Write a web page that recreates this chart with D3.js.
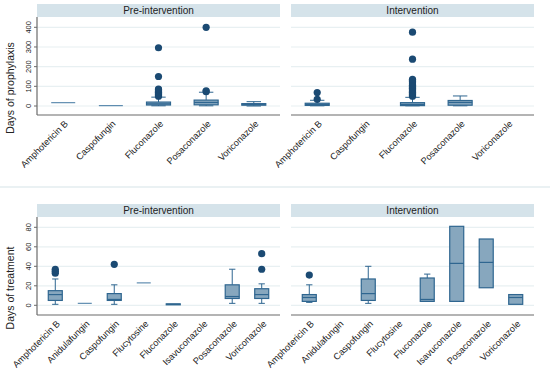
<!DOCTYPE html>
<meta charset="utf-8">
<script src="https://d3js.org/d3.v7.min.js"></script>
<style>
  body { margin: 0; background: #fff; }
  text { font-family: "Liberation Sans", Arial, sans-serif; fill: #222; }
</style>
<div id="chart"></div>
<script>

// categories
const prophCats = ["Amphotericin B", "Caspofungin", "Fluconazole", "Posaconazole", "Voriconazole"];
const treatCats = ["Amphotericin B", "Anidulafungin", "Caspofungin", "Flucytosine", "Fluconazole", "Isavuconazole", "Posaconazole", "Voriconazole"];
const panels = ["Pre-intervention", "Intervention"];

// box stats per category: [min, q1, median, q3, max], null = no data
const prophPre = [[17, 17, 17, 17, 17], [2, 2, 2, 2, 2], [1, 5, 11, 20, 45], [1, 6, 18, 30, 70], [0, 4, 8, 12, 22]];
const prophInt = [[1, 3, 8, 14, 29], null, [1, 2, 8, 17, 44], [1, 4, 18, 28, 51], null];
const treatPre = [[1, 5, 11, 15, 27], [2, 2, 2, 2, 2], [1, 5, 6, 12, 21], [23, 23, 23, 23, 23], [0.5, 0.5, 1, 1.5, 1.5], null, [2, 7, 9, 21, 37], [2, 7, 11, 17, 22]];
const treatInt = [[3, 4, 8, 11, 21], null, [2, 5, 12, 27, 40], null, [4, 4, 6, 28, 32], [4, 4, 43, 81, 81], [18, 18, 44, 68, 68], [1, 1, 8, 11, 11]];

// outliers per category
const prophPreOut = [[], [], [50, 54, 58, 62, 66, 70, 74, 78, 82, 86, 150, 296], [73, 77, 400], []];
const prophIntOut = [[34, 68], [], [50, 54, 58, 62, 66, 70, 74, 78, 82, 86, 90, 94, 98, 102, 106, 112, 118, 124, 130, 136, 238, 375], [], []];
const treatPreOut = [[33, 35, 37], [], [42], [], [], [], [], [37, 53]];
const treatIntOut = [[31], [], [], [], [], [], [], []];

// tick labels
const prophTicks = [0, 100, 200, 300, 400];
const treatTicks = [0, 20, 40, 60, 80];

const W = 550, H = 369;
const boxFill = "#87a7be", boxLine = "#2f6690", dotCol = "#1b4a73";
const gridCol = "#e8f0f2", headCol = "#d5e3ea", axisCol = "#6b6b6b";

const svg = d3.select("#chart").append("svg")
  .attr("width", W).attr("height", H);

// separator between the two graphs
svg.append("line")
  .attr("x1", 0).attr("x2", W).attr("y1", 187).attr("y2", 187)
  .attr("stroke", "#eaf1f3").attr("stroke-width", 2);

const panelX = [[37, 280], [291, 534]];

function drawChart(cfg) {
  const y = d3.scaleLinear().domain(cfg.domain).range([cfg.y0, cfg.y1]);

  cfg.stats.forEach((stats, pi) => {
    const [px0, px1] = panelX[pi];
    const x = d3.scalePoint().domain(cfg.cats).range([px0, px1]).padding(cfg.pad);
    const g = svg.append("g");

    // header strip
    g.append("rect")
      .attr("x", px0).attr("y", cfg.headTop)
      .attr("width", px1 - px0).attr("height", cfg.plotTop - cfg.headTop)
      .attr("fill", headCol);
    g.append("text")
      .attr("x", (px0 + px1) / 2).attr("y", cfg.headTop + 10)
      .attr("text-anchor", "middle").style("font-size", "10px")
      .text(panels[pi]);

    // gridlines
    g.selectAll(".grid").data(cfg.ticks).join("line")
      .attr("x1", px0).attr("x2", px1)
      .attr("y1", d => y(d)).attr("y2", d => y(d))
      .attr("stroke", gridCol).attr("stroke-width", 1.2);

    // x axis line
    g.append("line")
      .attr("x1", px0).attr("x2", px1)
      .attr("y1", cfg.axisY).attr("y2", cfg.axisY)
      .attr("stroke", axisCol).attr("stroke-width", 1.2);

    // x tick labels
    g.selectAll(".xl").data(cfg.cats).join("text")
      .attr("transform", d => `translate(${x(d) + 3},${cfg.axisY + 7}) rotate(-45)`)
      .attr("text-anchor", "end").attr("dy", "0.35em")
      .style("font-size", "9.2px")
      .text(d => d);

    if (pi === 0) {
      // y axis
      g.append("line")
        .attr("x1", px0).attr("x2", px0)
        .attr("y1", cfg.plotTop).attr("y2", cfg.axisY)
        .attr("stroke", axisCol).attr("stroke-width", 1.2);
      g.selectAll(".yt").data(cfg.ticks).join("line")
        .attr("x1", px0 - 3).attr("x2", px0)
        .attr("y1", d => y(d)).attr("y2", d => y(d))
        .attr("stroke", axisCol);
      g.selectAll(".yl").data(cfg.ticks).join("text")
        .attr("transform", d => `translate(${px0 - 6},${y(d)}) rotate(-90)`)
        .attr("text-anchor", "middle")
        .style("font-size", "7.5px")
        .text(d => d);
      g.append("text")
        .attr("transform", `translate(14,${(cfg.plotTop + cfg.axisY) / 2 + 22}) rotate(-90)`)
        .attr("text-anchor", "middle")
        .style("font-size", "10.5px")
        .text(cfg.title);
    }

    const bw = cfg.boxW, cw = cfg.boxW * cfg.capRatio;
    stats.forEach((s, i) => {
      if (!s) return;
      const cx = x(cfg.cats[i]);
      const [mn, q1, md, q3, mx] = s;
      // whiskers
      if (mx > q3) {
        g.append("line").attr("x1", cx).attr("x2", cx).attr("y1", y(q3)).attr("y2", y(mx))
          .attr("stroke", boxLine);
        g.append("line").attr("x1", cx - cw / 2).attr("x2", cx + cw / 2).attr("y1", y(mx)).attr("y2", y(mx))
          .attr("stroke", boxLine);
      }
      if (mn < q1) {
        g.append("line").attr("x1", cx).attr("x2", cx).attr("y1", y(q1)).attr("y2", y(mn))
          .attr("stroke", boxLine);
        g.append("line").attr("x1", cx - cw / 2).attr("x2", cx + cw / 2).attr("y1", y(mn)).attr("y2", y(mn))
          .attr("stroke", boxLine);
      }
      if (q3 > q1) {
        g.append("rect")
          .attr("x", cx - bw / 2).attr("y", y(q3))
          .attr("width", bw).attr("height", y(q1) - y(q3))
          .attr("fill", boxFill).attr("stroke", boxLine).attr("stroke-width", 1.2);
      }
      g.append("line")
        .attr("x1", cx - bw / 2).attr("x2", cx + bw / 2)
        .attr("y1", y(md)).attr("y2", y(md))
        .attr("stroke", q3 > q1 ? boxLine : "#5f8db0").attr("stroke-width", 1.2);
      // outliers
      g.selectAll(null).data(cfg.outs[pi][i]).join("circle")
        .attr("cx", cx).attr("cy", d => y(d)).attr("r", 3.6)
        .attr("fill", dotCol);
    });
  });
}

drawChart({
  cats: prophCats, stats: [prophPre, prophInt], outs: [prophPreOut, prophIntOut],
  ticks: prophTicks, domain: [0, 400], y0: 106, y1: 27.3,
  headTop: 4, plotTop: 17, axisY: 115, pad: 0.55, boxW: 24, capRatio: 0.6,
  title: "Days of prophylaxis"
});

drawChart({
  cats: treatCats, stats: [treatPre, treatInt], outs: [treatPreOut, treatIntOut],
  ticks: treatTicks, domain: [0, 80], y0: 305.3, y1: 227.3,
  headTop: 204, plotTop: 217, axisY: 315, pad: 0.62, boxW: 14, capRatio: 0.45,
  title: "Days of treatment"
});

</script>
